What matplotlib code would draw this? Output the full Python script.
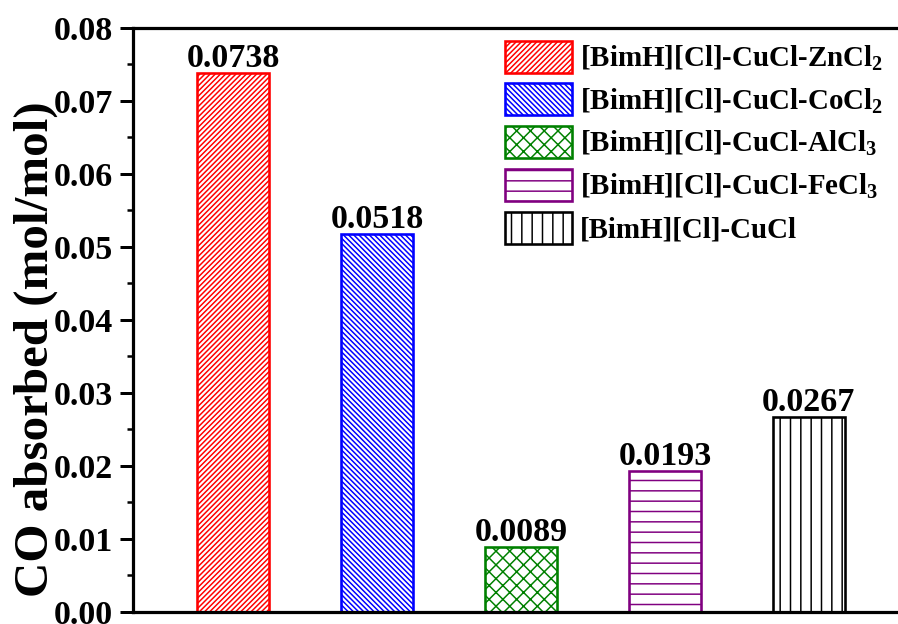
import matplotlib
matplotlib.use("Agg")
import matplotlib.pyplot as plt
from matplotlib.ticker import MultipleLocator, FormatStrFormatter

# data
samples = [
    r"[BimH][Cl]-CuCl-ZnCl$_\mathbf{2}$",
    r"[BimH][Cl]-CuCl-CoCl$_\mathbf{2}$",
    r"[BimH][Cl]-CuCl-AlCl$_\mathbf{3}$",
    r"[BimH][Cl]-CuCl-FeCl$_\mathbf{3}$",
    r"[BimH][Cl]-CuCl",
]
co_absorbed = [0.0738, 0.0518, 0.0089, 0.0193, 0.0267]
value_labels = ["0.0738", "0.0518", "0.0089", "0.0193", "0.0267"]
y_ticks = [0.00, 0.01, 0.02, 0.03, 0.04, 0.05, 0.06, 0.07, 0.08]

colors = ["#FF0000", "#0000FF", "#008000", "#800080", "#000000"]
hatches = ["////////", "\\" * 8, "xxx", "--", "||"]

DPI = 124


def px(v):
    """Convert a length in pixels to points at the figure dpi."""
    return v * 72.0 / DPI


plt.rcParams["font.family"] = ["Liberation Serif", "DejaVu Serif"]
plt.rcParams["font.weight"] = "bold"
plt.rcParams["mathtext.fontset"] = "custom"
plt.rcParams["mathtext.rm"] = "Liberation Serif:bold"
plt.rcParams["mathtext.bf"] = "Liberation Serif:bold"
plt.rcParams["mathtext.it"] = "Liberation Serif:bold"
plt.rcParams["hatch.linewidth"] = px(1.5)

fig = plt.figure(figsize=(898.3 / DPI, 624.3 / DPI), dpi=DPI)
ax = fig.add_axes([133 / 898, 12 / 624, 768 / 898, 584 / 624])

positions = list(range(1, len(co_absorbed) + 1))
bars = ax.bar(positions, co_absorbed, width=0.5, color="white",
              edgecolor=colors, linewidth=px(2.6))
for bar, h, c in zip(bars, hatches, colors):
    bar.set_hatch(h)
    bar.set_edgecolor(c)

for x, v, t in zip(positions, co_absorbed, value_labels):
    ax.annotate(t, (x, v), xytext=(0, px(6)), textcoords="offset points",
                ha="center", va="baseline", fontsize=px(34),
                fontweight="bold", color="black")

ax.set_xlim(0.305, 0.305 + 768 / 143.9)
ax.set_ylim(0, 0.08)
ax.set_yticks(y_ticks)
ax.yaxis.set_major_formatter(FormatStrFormatter("%.2f"))
ax.yaxis.set_minor_locator(MultipleLocator(0.005))
ax.set_xticks([])

for side in ("left", "top", "bottom"):
    ax.spines[side].set_linewidth(px(3.2))
ax.spines["right"].set_visible(False)

ax.tick_params(axis="y", which="major", direction="out", length=px(13),
               width=px(3), labelsize=px(34), pad=px(7))
ax.tick_params(axis="y", which="minor", direction="out", length=px(6),
               width=px(2.5))
for lab in ax.get_yticklabels():
    lab.set_fontweight("bold")

ax.set_ylabel("CO absorbed (mol/mol)", fontsize=px(49), fontweight="bold")
ax.yaxis.set_label_coords(-0.098, 0.451)

leg = ax.legend(handles=list(bars), labels=samples, loc="upper left",
                bbox_to_anchor=((505 - 133) / 768, (612 - 41) / 584),
                frameon=False, fontsize=px(29), handlelength=2.31,
                handleheight=1.32, labelspacing=0.37, handletextpad=0.28,
                borderpad=0, borderaxespad=0)
for t in leg.get_texts():
    t.set_fontweight("bold")

fig.savefig("out.png", dpi=DPI)
